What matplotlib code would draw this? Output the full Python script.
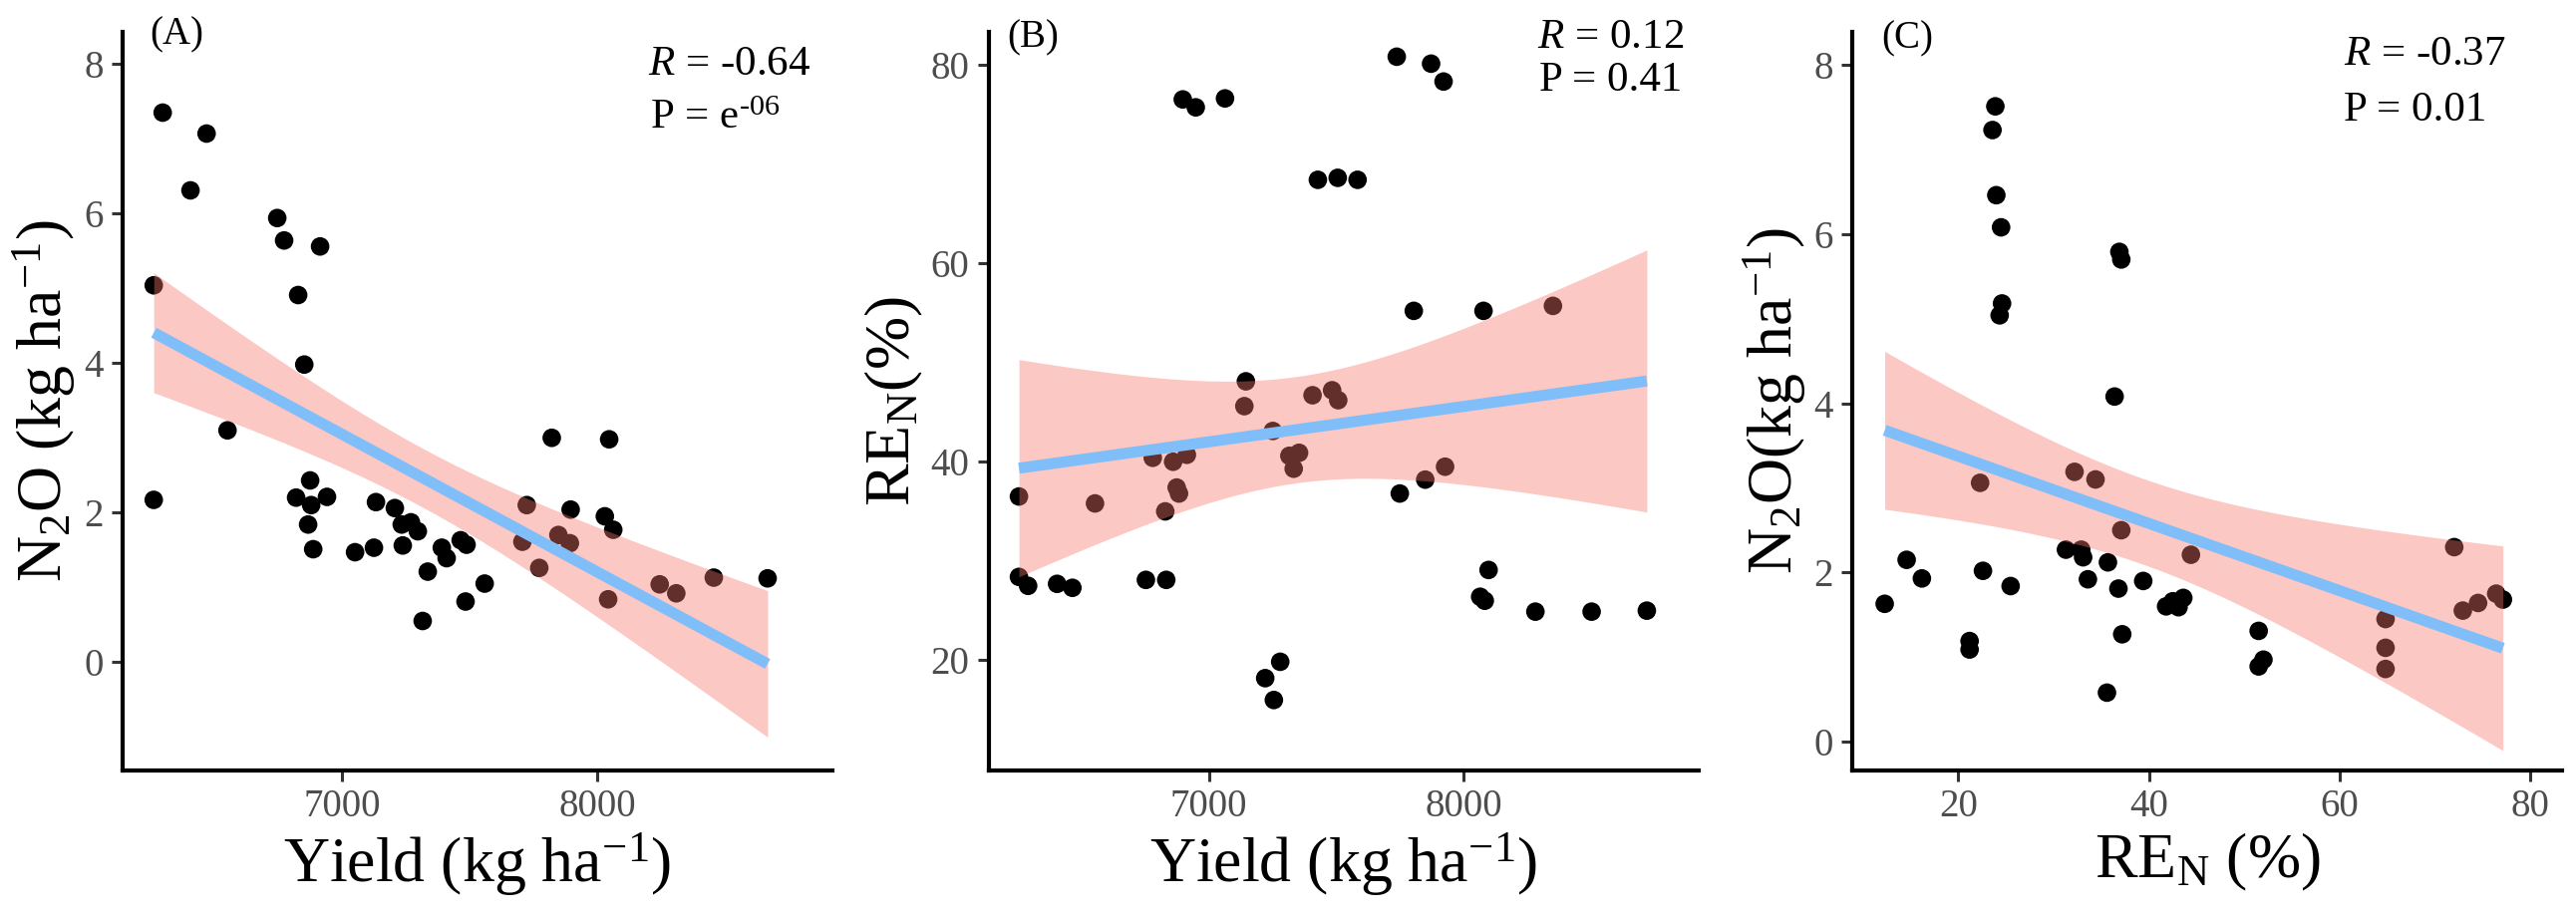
import numpy as np
import matplotlib
matplotlib.use("Agg")
import matplotlib.pyplot as plt

plt.rcParams['font.family'] = ['Liberation Serif', 'DejaVu Serif']
plt.rcParams['mathtext.fontset'] = 'custom'
plt.rcParams['mathtext.rm'] = 'Liberation Serif'
plt.rcParams['mathtext.it'] = 'Liberation Serif:italic'
plt.rcParams['mathtext.bf'] = 'Liberation Serif:bold'

# ---------------- data ----------------
yield_A = [6297, 6469, 6406, 6746, 6773, 6914, 6262, 6828, 6852, 6551,
           6262, 6875, 6820, 6941, 6879, 6867, 6887, 7051, 7133, 7125,
           7207, 7234, 7270, 7297, 7238, 7391, 7410, 7465, 7488, 7336,
           7316, 7559, 7484, 7724, 7896, 8030, 8063, 7848, 7893, 7707,
           7773, 8043, 8245, 8310, 8457, 8668, 7822, 8047]
n2o_A = [7.35, 7.07, 6.31, 5.94, 5.64, 5.56, 5.04, 4.91, 3.98, 3.10,
         2.17, 2.43, 2.20, 2.21, 2.10, 1.84, 1.51, 1.47, 2.14, 1.53,
         2.06, 1.84, 1.87, 1.75, 1.56, 1.53, 1.39, 1.63, 1.57, 1.21,
         0.55, 1.05, 0.81, 2.10, 2.04, 1.95, 1.77, 1.70, 1.59, 1.61,
         1.26, 0.84, 1.04, 0.92, 1.13, 1.12, 3.00, 2.98]

yield_B = [7738, 7873, 7922, 6897, 6948, 7063, 7428, 7506, 7584, 7805,
           8079, 8352, 7145, 7139, 7407, 7484, 7508, 7251, 6779, 6859,
           6913, 7316, 7354, 7333, 6873, 6882, 6828, 6253, 6552, 7750,
           7850, 7928, 6253, 6289, 6403, 6463, 6752, 6832, 8099, 8066,
           8084, 8283, 8504, 8721, 7280, 7221, 7255]
ren_B = [80.8, 80.1, 78.3, 76.5, 75.7, 76.6, 68.4, 68.6, 68.4, 55.2,
         55.2, 55.7, 48.1, 45.6, 46.7, 47.2, 46.2, 43.1, 40.4, 40.0,
         40.7, 40.6, 40.9, 39.3, 37.4, 36.8, 35.0, 36.5, 35.8, 36.8,
         38.2, 39.5, 28.4, 27.5, 27.7, 27.3, 28.1, 28.1, 29.1, 26.4,
         26.0, 24.9, 24.9, 25.0, 19.85, 18.2, 16.0]

ren_C = [23.9, 23.6, 24.0, 24.5, 24.6, 24.35, 36.9, 37.1, 36.4, 32.2,
         34.4, 22.3, 37.1, 31.3, 32.9, 33.1, 35.7, 44.4, 14.6, 16.2,
         22.6, 25.5, 33.6, 36.8, 39.4, 12.3, 41.8, 42.5, 43.1, 43.6,
         21.2, 21.2, 37.2, 35.6, 51.5, 52.0, 51.5, 64.8, 64.8, 64.8,
         72.0, 72.9, 74.5, 76.4, 77.1]
n2o_C = [7.51, 7.23, 6.46, 6.08, 5.18, 5.04, 5.79, 5.70, 4.08, 3.19,
         3.10, 3.06, 2.50, 2.27, 2.27, 2.18, 2.12, 2.21, 2.15, 1.93,
         2.02, 1.84, 1.92, 1.81, 1.90, 1.63, 1.60, 1.66, 1.59, 1.70,
         1.19, 1.09, 1.27, 0.58, 1.31, 0.97, 0.89, 1.45, 1.11, 0.86,
         2.30, 1.55, 1.64, 1.75, 1.68]

panel_tags = ["(A)", "(B)", "(C)"]
r_labels = [r"$R$ = -0.64", r"$R$ = 0.12", r"$R$ = -0.37"]
p_labels = [r"P = e$^{\text{-06}}$", "P = 0.41", "P = 0.01"]
x_titles = [r"Yield (kg ha$^{-1}$)", r"Yield (kg ha$^{-1}$)", r"RE$_\mathrm{N}$ (%)"]
y_titles = [r"N$_2$O (kg ha$^{-1}$)", r"RE$_\mathrm{N}$(%)", r"N$_2$O(kg ha$^{-1}$)"]

# ---------------- layout ----------------
W, H = 2584, 922
fig = plt.figure(figsize=(W / 100, H / 100), dpi=100)
fig.patch.set_facecolor('white')

def fx(px):
    return px / W

def fy(py):
    return 1 - py / H

ax_left = [123, 992, 1858]
ax_w = 712
ax_top, ax_bot = 32, 773

xlims = [(6140, 8922), (6135, 8925), (8.9, 83.3)]
ylims = [(-1.45, 8.43), (8.9, 83.3), (-0.34, 8.39)]
xticks = [[7000, 8000], [7000, 8000], [20, 40, 60, 80]]
yticks = [[0, 2, 4, 6, 8], [20, 40, 60, 80], [0, 2, 4, 6, 8]]

datasets = [(yield_A, n2o_A), (yield_B, ren_B), (ren_C, n2o_C)]

tag_pos = [(150, 44), (1010, 47), (1887, 48)]
r_pos = [(650, 75), (1542, 48), (2351, 65)]
p_pos = [(652, 129), (1544, 91), (2351, 121)]

T_CRIT = 2.014  # 95% two-sided t quantile for ~45 d.f.

TICK_COLOR = '#4D4D4D'

for i in range(3):
    ax = fig.add_axes([fx(ax_left[i]), fy(ax_bot), fx(ax_w), (ax_bot - ax_top) / H])
    x = np.asarray(datasets[i][0], float)
    y = np.asarray(datasets[i][1], float)

    ax.scatter(x, y, s=180, color='black', edgecolors='none', zorder=1)

    # linear fit with 95% confidence band (like geom_smooth(method='lm'))
    n = len(x)
    b, a = np.polyfit(x, y, 1)
    xs = np.linspace(x.min(), x.max(), 200)
    yhat = a + b * xs
    resid = y - (a + b * x)
    s = np.sqrt(np.sum(resid ** 2) / (n - 2))
    sxx = np.sum((x - x.mean()) ** 2)
    se = s * np.sqrt(1.0 / n + (xs - x.mean()) ** 2 / sxx)
    ax.fill_between(xs, yhat - T_CRIT * se, yhat + T_CRIT * se,
                    color='#F8766D', alpha=0.4, linewidth=0, zorder=2)
    ax.plot(xs, yhat, color='#80BEFA', linewidth=8, solid_capstyle='butt', zorder=3)

    ax.set_xlim(*xlims[i])
    ax.set_ylim(*ylims[i])
    ax.set_xticks(xticks[i])
    ax.set_yticks(yticks[i])

    for side in ['top', 'right']:
        ax.spines[side].set_visible(False)
    for side in ['left', 'bottom']:
        ax.spines[side].set_linewidth(3.0)
        ax.spines[side].set_color('black')
    ax.tick_params(axis='both', direction='out', length=8, width=2.2,
                   color='#333333', labelsize=28, labelcolor=TICK_COLOR)
    ax.tick_params(axis='x', pad=5)
    ax.tick_params(axis='y', pad=6)

    ax.set_xlabel(x_titles[i], fontsize=46, labelpad=4)
    ax.set_ylabel(y_titles[i], fontsize=46, labelpad=4)

    fig.text(fx(tag_pos[i][0]), fy(tag_pos[i][1]), panel_tags[i],
             fontsize=28, ha='left', va='baseline')
    fig.text(fx(r_pos[i][0]), fy(r_pos[i][1]), r_labels[i],
             fontsize=31, ha='left', va='baseline')
    fig.text(fx(p_pos[i][0]), fy(p_pos[i][1]), p_labels[i],
             fontsize=31, ha='left', va='baseline')

fig.savefig('out.png', dpi=100, facecolor='white')
